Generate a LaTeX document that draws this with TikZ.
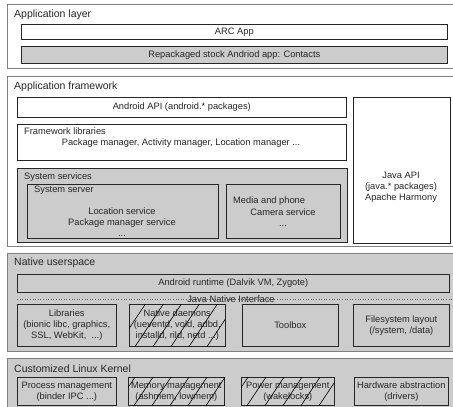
\documentclass[tikz,border=0pt]{standalone}
\usepackage{fontspec}
\setmainfont{Liberation Sans}
\usetikzlibrary{positioning}

\tikzset{
  sz/.style 2 args={minimum width=#1pt, minimum height=#2pt},
  layer/.style={draw=black!50, line width=1.2pt, fill=white, anchor=north west, inner sep=0pt},
  blk/.style={draw=black!85, line width=0.6pt, fill=white, anchor=north west, inner sep=0pt,
    align=center, text=black!85, font=\fontsize{9.3}{11}\selectfont},
  grey/.style={fill=black!20},
  title/.style={anchor=base west, inner sep=0pt, text=black!85, font=\fontsize{10.5}{12}\selectfont},
  sub/.style={anchor=base west, inner sep=0pt, text=black!85, font=\fontsize{9.3}{11}\selectfont},
  txt/.style={inner sep=0pt, align=center, text=black!85, font=\fontsize{9.3}{11}\selectfont},
}

\begin{document}
\begin{tikzpicture}[x=1pt, y=-1pt]
  \clip (0,0) rectangle (453,407);

  % --- APPLICATION LAYER ---
  \node[layer, sz={470}{64}] (applayer) at (7,4) {};
  \node[title] (applayertitle) at (14,17.5) {Application layer};
  \node[blk, sz={426}{15}] (arc) at (21,24) {ARC App};
  \node[blk, grey, sz={426}{17}] (contacts) at (21,46) {Repackaged stock Andriod app: Contacts};

  % --- APPLICATION FRAMEWORK ---
  \node[layer, sz={470}{170}] (appfw) at (7,76) {};
  \node[title] (appfwtitle) at (14,89) {Application framework};
  \node[blk, sz={329}{20}] (androidapi) at (17,97) {Android API (android.* packages)};
  \node[blk, sz={329}{36}] (fwlibs) at (17,124) {};
  \node[sub] (fwlibstitle) at (24,134) {Framework libraries};
  \node[txt] (fwlibstext) at (181,143) {Package manager, Activity manager, Location manager ...};

  % system services block
  \node[blk, grey, sz={330}{74}] (syssvc) at (17,168) {};
  \node[sub] (syssvctitle) at (24,179.5) {System services};
  \node[blk, grey, sz={191}{54}] (sysserver) at (27,184) {};
  \node[sub] (sysservertitle) at (34,192.5) {System server};
  \node[txt] (sysservertext) at (122,222) {Location service\\Package manager service\\...};
  \node[blk, grey, sz={114}{54}] (media) at (226,184) {};
  \node[sub] (mediatitle) at (233,203.5) {Media and phone};
  \node[txt] (mediatext) at (283,218) {Camera service\\...};

  % Java API on the right
  \node[blk, sz={97}{146}] (javaapi) at (353,97) {};
  \node[txt] (javaapitext) at (401,187) {Java API\\(java.* packages)\\Apache Harmony};

  % --- NATIVE USERSPACE ---
  \node[layer, grey, sz={470}{98}] (native) at (7,253) {};
  \node[title] (nativetitle) at (14,265.5) {Native userspace};
  \node[blk, grey, sz={432}{18}] (runtime) at (17,274) {Android runtime (Dalvik VM, Zygote)};

  % Java Native Interface separator
  \coordinate (jnistart) at (17,299);
  \coordinate (jniend) at (453,299);
  \draw[black!60, dotted, line width=0.6pt] (jnistart) -- (jniend);
  \node[txt] (jni) at (231,299) {Java Native Interface};

  \node[blk, grey, sz={99}{42}] (libs) at (17,304) {Libraries\\(bionic libc, graphics,\\SSL, WebKit,\ \ ...)};
  \node[blk, grey, sz={96}{42}] (daemons) at (129,304) {Native daemons\\(ueventd, vold, adbd,\\installd, rild, netd ...)};
  \node[blk, grey, sz={96}{42}] (toolbox) at (242,304) {Toolbox};
  \node[blk, grey, sz={96}{42}] (fslayout) at (353,304) {Filesystem layout\\(/system, /data)};

  % --- CUSTOMIZED LINUX KERNEL ---
  \node[layer, grey, sz={470}{70}] (kernel) at (7,358) {};
  \node[title] (kerneltitle) at (14,372.5) {Customized Linux Kernel};
  \node[blk, grey, sz={99}{28}] (procmgmt) at (17,377) {Process management\\(binder IPC ...)};
  \node[blk, grey, sz={96}{28}] (memmgmt) at (128,377) {Memory management\\(ashmem, lowmem)};
  \node[blk, grey, sz={93}{28}] (powermgmt) at (241,377) {Power management\\(wakelocks)};
  \node[blk, grey, sz={94}{28}] (hwabs) at (354,377) {Hardware abstraction\\(drivers)};

  % hatching over the modified components
  \foreach \b in {daemons, memmgmt, powermgmt} {
    \begin{scope}
      \clip (\b.north west) rectangle (\b.south east);
      \foreach \i in {0,...,7}
        \draw[line width=0.6pt] ([xshift=\i*18pt-30pt]\b.south west) -- ++(30pt,45pt);
    \end{scope}
  }

\end{tikzpicture}
\end{document}
